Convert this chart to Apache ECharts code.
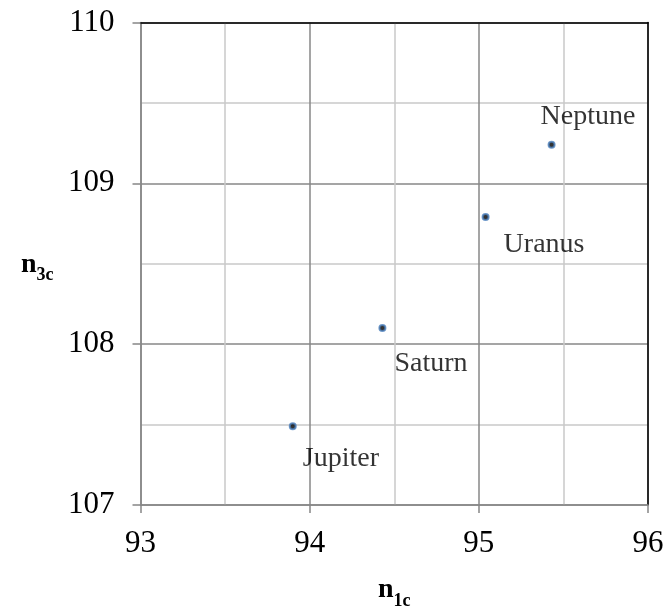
<!DOCTYPE html>
<html>
<head>
<meta charset="utf-8">
<script src="https://cdn.jsdelivr.net/npm/echarts@6/dist/echarts.min.js"></script>
<style>html,body{margin:0;padding:0;background:#fff;}#c{width:668px;height:610px;}</style>
</head>
<body>
<div id="c"></div>
<script>
var planets = ['Jupiter', 'Saturn', 'Uranus', 'Neptune'];
var n1c = [93.90, 94.43, 95.04, 95.43];
var n3c = [107.49, 108.10, 108.79, 109.24];

var labelOffsets = {
  Jupiter: [1, 32],
  Saturn: [3, 36],
  Uranus: [9, 28],
  Neptune: [-20, -28]
};

var FONT = '"Liberation Serif", "Times New Roman", serif';
var data = planets.map(function (p, i) {
  return {
    name: p,
    value: [n1c[i], n3c[i]],
    label: { offset: labelOffsets[p] }
  };
});

var chart = echarts.init(document.getElementById('c'), null, { renderer: 'canvas' });
var majorColor = '#878787';
var minorColor = '#c9c9c9';
var nameRich = {
  n: { fontFamily: FONT, fontSize: 28, fontWeight: 'bold', color: '#000', verticalAlign: 'bottom', lineHeight: 30 },
  s: { fontFamily: FONT, fontSize: 18, fontWeight: 'bold', color: '#000', verticalAlign: 'bottom', lineHeight: 20, padding: [0, 0, -6, 0] }
};
chart.setOption({
  animation: false,
  backgroundColor: '#fff',
  grid: { left: 140.5, right: 20, top: 22.5, bottom: 105, containLabel: false, outerBoundsMode: 'none' },
  xAxis: [{
    type: 'value', min: 93, max: 96, interval: 1,
    axisLine: { lineStyle: { color: majorColor, width: 1.5 } },
    axisTick: { show: true, inside: false, length: 8, lineStyle: { color: majorColor, width: 1.5 } },
    axisLabel: { fontFamily: FONT, fontSize: 31, color: '#000', margin: 23 },
    splitLine: { show: true, lineStyle: { color: majorColor, width: 1.5 } },
    minorTick: { show: false, splitNumber: 2 },
    minorSplitLine: { show: true, lineStyle: { color: minorColor, width: 1.5 } },
    name: '{n|n}{s|1c}',
    nameLocation: 'middle',
    nameGap: 69,
    nameTextStyle: { fontFamily: FONT, rich: nameRich }
  }, {
    type: 'value', min: 93, max: 96, interval: 1, position: 'top',
    axisLine: { show: true, lineStyle: { color: '#000', width: 1.5 } },
    axisTick: { show: false }, axisLabel: { show: false }, splitLine: { show: false }
  }],
  yAxis: [{
    type: 'value', min: 107, max: 110, interval: 1,
    axisLine: { show: true, lineStyle: { color: majorColor, width: 1.5 } },
    axisTick: { show: true, inside: false, length: 8, lineStyle: { color: majorColor, width: 1.5 } },
    axisLabel: { fontFamily: FONT, fontSize: 31, color: '#000', margin: 26, padding: [6, 0, 0, 0] },
    splitLine: { show: true, lineStyle: { color: majorColor, width: 1.5 } },
    minorTick: { show: false, splitNumber: 2 },
    minorSplitLine: { show: true, lineStyle: { color: minorColor, width: 1.5 } },
    name: '{n|n}{s|3c}',
    nameLocation: 'middle',
    nameRotate: 0,
    nameGap: 87,
    nameTextStyle: { fontFamily: FONT, rich: nameRich }
  }, {
    type: 'value', min: 107, max: 110, interval: 1, position: 'right',
    axisLine: { show: true, lineStyle: { color: '#000', width: 1.5 } },
    axisTick: { show: false }, axisLabel: { show: false }, splitLine: { show: false }
  }],
  series: [{
    type: 'scatter',
    xAxisIndex: 0, yAxisIndex: 0,
    symbol: 'circle',
    symbolSize: 6,
    itemStyle: { color: '#000', borderColor: '#4a7ebb', borderWidth: 2 },
    label: {
      show: true,
      position: 'right',
      distance: 5,
      formatter: '{b}',
      fontFamily: FONT,
      fontSize: 28,
      color: '#000',
      textBorderWidth: 0
    },
    data: data
  }]
});
</script>
</body>
</html>
